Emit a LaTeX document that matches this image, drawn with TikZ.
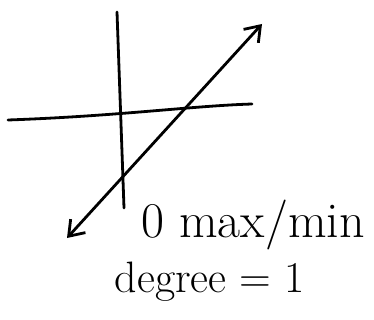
\documentclass[tikz,border=0pt]{standalone}
\usepackage{tikz}
\usetikzlibrary{arrows.meta,positioning}

\tikzset{
  pen/.style={line width=2.8pt, line cap=round, line join=round},
  note/.style={font=\fontsize{44}{50}\selectfont, inner sep=0pt}
}

\begin{document}
\begin{tikzpicture}[x=1pt,y=-1pt]
\useasboundingbox (0,0) rectangle (374,320);
% axes
\draw[pen] (117,12) -- (124,208);
\draw[pen] (8,120) .. controls (120,116) and (190,106) .. (252,104);
% the line
\coordinate (lo) at (67,238);
\coordinate (hi) at (262,24);
\draw[pen, {Straight Barb[length=14pt,width=20pt]}-{Straight Barb[length=14pt,width=20pt]}] (lo) -- (hi);
% labels
\node[note, font=\fontsize{50}{56}\selectfont, anchor=base] (extrema) at (253,237) {0 max/min};
\node[note, anchor=base] (deg) at (210,292) {degree = 1};
\end{tikzpicture}
\end{document}
